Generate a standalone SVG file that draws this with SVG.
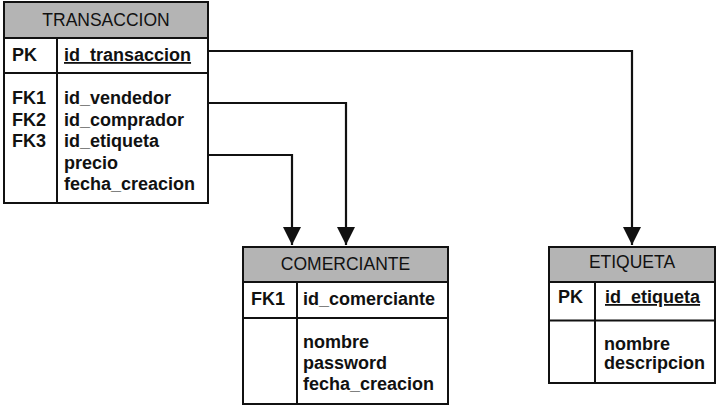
<svg xmlns="http://www.w3.org/2000/svg" width="720" height="410" viewBox="0 0 720 410">
<style>
  .box { fill: #ffffff; stroke: #111; stroke-width: 2; }
  .hdr { fill: #b4b4b4; stroke: #111; stroke-width: 2; }
  .sep { stroke: #111; stroke-width: 2; fill: none; }
  .title { font-family: "Liberation Sans", Arial, sans-serif; font-size: 17.5px; fill: #111; text-anchor: middle; }
  .f { font-family: "Liberation Sans", Arial, sans-serif; font-size: 18px; font-weight: bold; fill: #111; }
  .u { text-decoration: underline; }
  .conn { fill: none; stroke: #111; stroke-width: 2.2; }
</style>
<defs>
  <marker id="arr" markerUnits="userSpaceOnUse" markerWidth="18" markerHeight="18" refX="18" refY="9" orient="auto">
    <path d="M0,0 L18,9 L0,18 Z" fill="#111"/>
  </marker>
</defs>
<rect width="720" height="410" fill="#ffffff"/>

<g id="connectors">
  <path class="conn" d="M208,51 H632 V245" marker-end="url(#arr)"/>
  <path class="conn" d="M208,103 H346 V245" marker-end="url(#arr)"/>
  <path class="conn" d="M208,155 H292 V245" marker-end="url(#arr)"/>
</g>

<g id="transaccion">
  <rect class="box" x="4" y="2" width="204" height="201"/>
  <rect class="hdr" x="4" y="2" width="204" height="36"/>
  <line class="sep" x1="4" y1="73" x2="208" y2="73"/>
  <line class="sep" x1="57" y1="38" x2="57" y2="203"/>
  <text class="title" x="106" y="26">TRANSACCION</text>
  <text class="f" x="12" y="61">PK</text>
  <text class="f u" x="64" y="61">id_transaccion</text>
  <text class="f" x="12" y="104">FK1</text>
  <text class="f" x="12" y="125.5">FK2</text>
  <text class="f" x="12" y="147">FK3</text>
  <text class="f" x="64" y="104">id_vendedor</text>
  <text class="f" x="64" y="125.5">id_comprador</text>
  <text class="f" x="64" y="147">id_etiqueta</text>
  <text class="f" x="64" y="168.5">precio</text>
  <text class="f" x="64" y="190">fecha_creacion</text>
</g>

<g id="comerciante">
  <rect class="box" x="243" y="247" width="205" height="157"/>
  <rect class="hdr" x="243" y="247" width="205" height="35"/>
  <line class="sep" x1="243" y1="318" x2="448" y2="318"/>
  <line class="sep" x1="297" y1="282" x2="297" y2="404"/>
  <text class="title" x="345.5" y="269.5">COMERCIANTE</text>
  <text class="f" x="251" y="305">FK1</text>
  <text class="f" x="303" y="305">id_comerciante</text>
  <text class="f" x="303" y="348">nombre</text>
  <text class="f" x="303" y="369">password</text>
  <text class="f" x="303" y="390">fecha_creacion</text>
</g>

<g id="etiqueta">
  <rect class="box" x="549" y="247" width="166" height="136"/>
  <rect class="hdr" x="549" y="247" width="166" height="35"/>
  <line class="sep" x1="549" y1="320.5" x2="715" y2="320.5"/>
  <line class="sep" x1="595" y1="282" x2="595" y2="383"/>
  <text class="title" x="632" y="268">ETIQUETA</text>
  <text class="f" x="558" y="303">PK</text>
  <text class="f u" x="605" y="303">id_etiqueta</text>
  <text class="f" x="604" y="350">nombre</text>
  <text class="f" x="604" y="369">descripcion</text>
</g>
</svg>
